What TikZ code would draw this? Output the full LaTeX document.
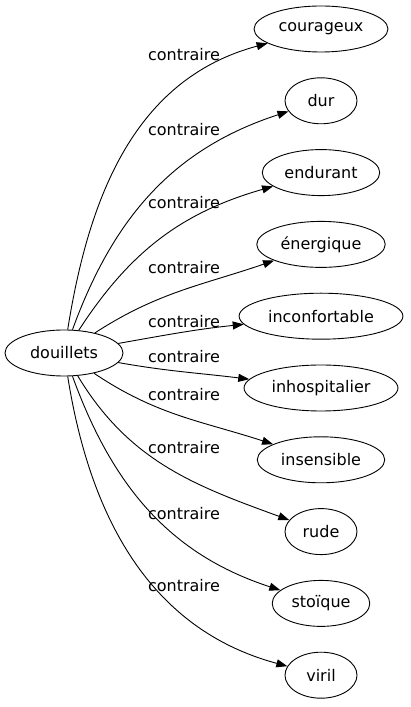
\documentclass[tikz,border=0pt]{standalone}
\usepackage{fontspec}
\setmainfont{DejaVu Sans}
\usetikzlibrary{arrows.meta, positioning, shapes.geometric}
\tikzset{
  >={Triangle[length=11pt,width=8pt]},
  word/.style={
    draw, ellipse, line width=0.9pt, inner xsep=5pt,
    minimum width=72pt, minimum height=46pt, font=\fontsize{16}{19}\selectfont
  },
  rel/.style={->, line width=0.9pt},
  lab/.style={font=\fontsize{16}{19}\selectfont, inner sep=0pt}
}
\begin{document}
\begin{tikzpicture}[x=1pt, y=1pt, node distance=24.9pt]
  \useasboundingbox (0,0) rectangle (410,707);
  \node[word, minimum width=118pt] (douillets) at (64,354) {douillets};
  \node[word] (courageux) at (321,678) {courageux};
  \node[word, below=of courageux] (dur) {dur};
  \node[word, below=of dur] (endurant) {endurant};
  \node[word, below=of endurant] (energique) {énergique};
  \node[word, below=of energique] (inconfortable) {inconfortable};
  \node[word, below=of inconfortable] (inhospitalier) {inhospitalier};
  \node[word, below=of inhospitalier] (insensible) {insensible};
  \node[word, below=of insensible] (rude) {rude};
  \node[word, below=of rude] (stoique) {stoïque};
  \node[word, below=of stoique] (viril) {viril};
  % edges
  \draw[rel] (douillets) to[out=81,in=195] (courageux);
  \draw[rel] (douillets) to[out=70,in=198] (dur);
  \draw[rel] (douillets) to[out=57,in=196] (endurant);
  \draw[rel] (douillets) to[out=33,in=199] (energique);
  \draw[rel] (douillets) to[out=10,in=186] (inconfortable);
  \draw[rel] (douillets) to[out=-10,in=173] (inhospitalier);
  \draw[rel] (douillets) to[out=-34,in=162] (insensible);
  \draw[rel] (douillets) to[out=-59,in=160] (rude);
  \draw[rel] (douillets) to[out=-70,in=162] (stoique);
  \draw[rel] (douillets) to[out=-81,in=165] (viril);
  % labels
  \node[lab] (l1) at (184,652) {contraire};
  \node[lab] (l2) at (184,577) {contraire};
  \node[lab] (l3) at (184,504) {contraire};
  \node[lab] (l4) at (184,439) {contraire};
  \node[lab] (l5) at (184,385) {contraire};
  \node[lab] (l6) at (184,350) {contraire};
  \node[lab] (l7) at (184,312) {contraire};
  \node[lab] (l8) at (184,259) {contraire};
  \node[lab] (l9) at (184,193) {contraire};
  \node[lab] (l10) at (184,121) {contraire};
\end{tikzpicture}
\end{document}
